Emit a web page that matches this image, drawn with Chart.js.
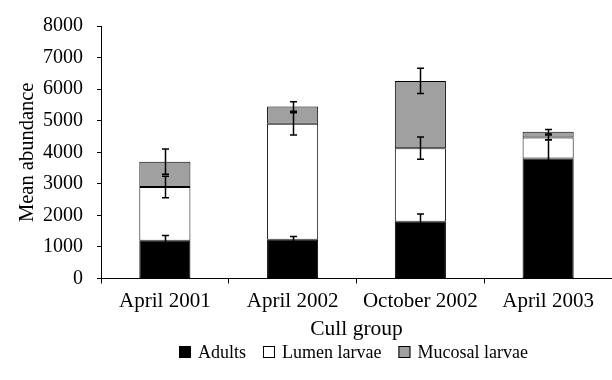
<!DOCTYPE html>
<html>
<head>
<meta charset="utf-8">
<script src="https://cdn.jsdelivr.net/npm/chart.js@4.4.1/dist/chart.umd.min.js"></script>
<style>
  html, body { margin: 0; padding: 0; background: #fff; }
  #wrap { width: 612px; height: 380px; }
</style>
</head>
<body>
<div id="wrap"><canvas id="c" width="612" height="380"></canvas></div>
<script>
// Cull groups along the x axis
const categories = ['April 2001', 'April 2002', 'October 2002', 'April 2003'];

// Mean abundance per cull group, by stage
const adults  = [1200, 1230, 1800, 3800];
const lumen   = [1700, 3670, 2330, 670];
const mucosal = [800, 550, 2130, 180];

// Error (±) drawn at the top of each stacked segment
const adultsErr  = [160, 100, 240, 600];
const lumenErr   = [340, 350, 350, 75];
const mucosalErr = [400, 150, 400, 70];

const yTicks = [0, 1000, 2000, 3000, 4000, 5000, 6000, 7000, 8000];

const serif = "'Liberation Serif', 'Times New Roman', serif";

// Draws the ± error bars at each segment's cumulative top
const errorBars = {
  id: 'errorBars',
  afterDatasetsDraw(chart) {
    const ctx = chart.ctx;
    const y = chart.scales.y;
    const sets = chart.data.datasets;
    ctx.save();
    ctx.strokeStyle = '#000';
    ctx.lineWidth = 1.5;
    sets.forEach((ds, i) => {
      const meta = chart.getDatasetMeta(i);
      meta.data.forEach((bar, j) => {
        let cum = 0;
        for (let k = 0; k <= i; k++) cum += sets[k].data[j];
        const e = ds.errors[j];
        const x = Math.round(bar.x) + 0.5;
        const yHi = y.getPixelForValue(cum + e);
        const yLo = y.getPixelForValue(cum - e);
        const cap = 3.5;
        ctx.beginPath();
        ctx.moveTo(x, yHi); ctx.lineTo(x, yLo);
        ctx.moveTo(x - cap, yHi); ctx.lineTo(x + cap, yHi);
        ctx.moveTo(x - cap, yLo); ctx.lineTo(x + cap, yLo);
        ctx.stroke();
      });
    });
    ctx.restore();
  }
};

// Legend row centred under the plot area
const bottomLegend = {
  id: 'bottomLegend',
  afterDraw(chart) {
    const ctx = chart.ctx;
    const area = chart.chartArea;
    const box = 12, gap = 7, itemGap = 17, cy = 352;
    ctx.save();
    ctx.font = '18px ' + serif;
    ctx.textBaseline = 'middle';
    ctx.textAlign = 'left';
    const items = chart.data.datasets.map(ds => ({ label: ds.label, fill: ds.backgroundColor, w: ctx.measureText(ds.label).width }));
    const total = items.reduce((s, it) => s + box + gap + it.w, 0) + itemGap * (items.length - 1);
    let x = Math.round((area.left + area.right) / 2 - 3 - total / 2);
    items.forEach(it => {
      ctx.fillStyle = it.fill;
      ctx.fillRect(x, cy - box / 2, box, box);
      ctx.strokeStyle = '#000';
      ctx.lineWidth = 1;
      ctx.strokeRect(x + 0.5, cy - box / 2 + 0.5, box - 1, box - 1);
      ctx.fillStyle = '#000';
      ctx.fillText(it.label, x + box + gap, cy + 1);
      x += box + gap + it.w + itemGap;
    });
    ctx.restore();
  }
};

const barStyle = { borderColor: '#000', borderWidth: 1, barPercentage: 0.4, categoryPercentage: 1.0, borderSkipped: false };

new Chart(document.getElementById('c'), {
  type: 'bar',
  data: {
    labels: categories,
    datasets: [
      Object.assign({ label: 'Adults', data: adults, errors: adultsErr, backgroundColor: '#000' }, barStyle),
      Object.assign({ label: 'Lumen larvae', data: lumen, errors: lumenErr, backgroundColor: '#fff' }, barStyle),
      Object.assign({ label: 'Mucosal larvae', data: mucosal, errors: mucosalErr, backgroundColor: '#a0a0a0' }, barStyle)
    ]
  },
  options: {
    responsive: false,
    animation: false,
    devicePixelRatio: 1,
    layout: { padding: { top: 16, right: 0, left: 0, bottom: 38 } },
    plugins: {
      tooltip: { enabled: false },
      legend: { display: false }
    },
    scales: {
      x: {
        stacked: true,
        afterFit(scale) { scale.height = 63.5; },
        border: { color: '#000', width: 1 },
        grid: { display: true, offset: true, drawOnChartArea: false, drawTicks: true, tickLength: 5, color: '#000' },
        ticks: { color: '#000', font: { family: serif, size: 21 }, padding: 5, maxRotation: 0 },
        title: { display: true, text: 'Cull group', color: '#000', font: { family: serif, size: 21.5 }, padding: { top: 0, bottom: 0 } }
      },
      y: {
        stacked: true,
        min: 0,
        max: 8000,
        afterFit(scale) { scale.width = 101; },
        afterBuildTicks(scale) { scale.ticks = yTicks.map(v => ({ value: v })); },
        border: { color: '#000', width: 1 },
        grid: { display: true, drawOnChartArea: false, drawTicks: true, tickLength: 4, color: '#000' },
        ticks: { color: '#000', font: { family: serif, size: 20 }, padding: 14, callback: v => String(v) },
        title: { display: true, text: 'Mean abundance', color: '#000', font: { family: serif, size: 20.5 }, padding: { top: 15, bottom: 0 } }
      }
    }
  },
  plugins: [errorBars, bottomLegend]
});
</script>
</body>
</html>
